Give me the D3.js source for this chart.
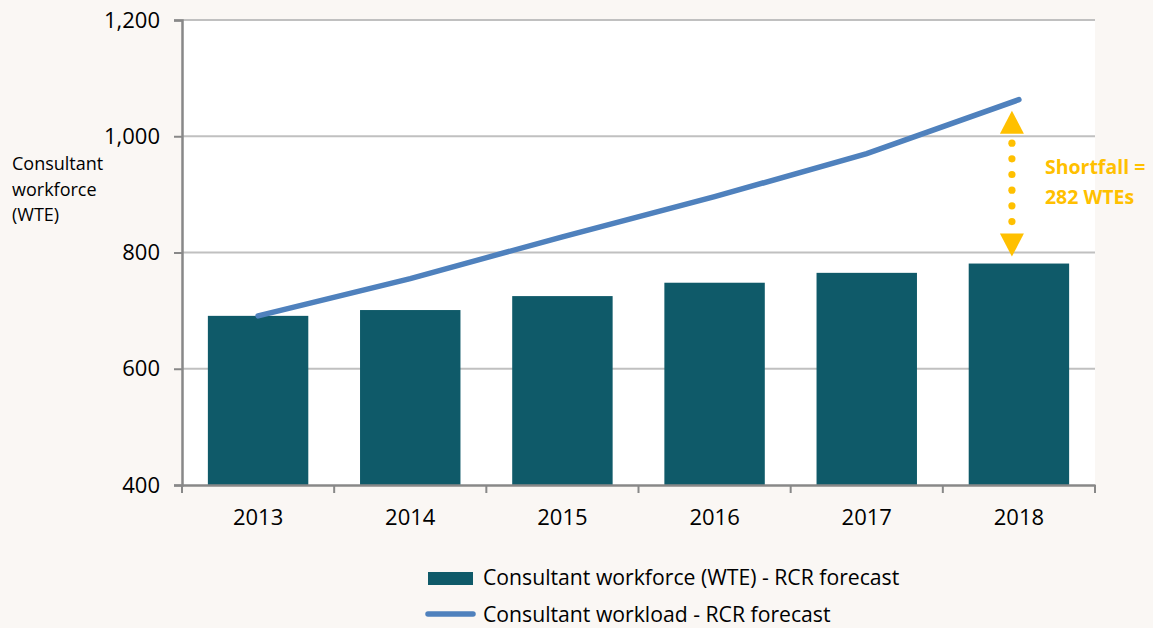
<!DOCTYPE html>
<html>
<head>
<meta charset="utf-8">
<script src="https://cdn.jsdelivr.net/npm/d3@7"></script>
<style>
  html, body { margin: 0; padding: 0; background: #faf7f4; }
  svg { display: block; font-family: "Open Sans", sans-serif; }
</style>
</head>
<body>
<div id="chart"></div>
<script>
// Chart data
const years = ["2013", "2014", "2015", "2016", "2017", "2018"];
const workforce = [691, 701, 725, 748, 765, 781];   // bars
const workload = [691, 755, 827, 896, 970, 1063];   // line
const yTicks = [400, 600, 800, 1000, 1200];
const axisTitle = ["Consultant", "workforce", "(WTE)"];
const legendLabels = ["Consultant workforce (WTE) - RCR forecast", "Consultant workload - RCR forecast"];
const shortfallLines = ["Shortfall =", "282 WTEs"];

const width = 1153, height = 628;
const plot = { left: 182, right: 1095, top: 20, bottom: 485 };

const barColor = "#0f5a69", lineColor = "#4f81bd", gold = "#ffc000";

const svg = d3.select("#chart")
    .append("svg")
    .attr("width", width)
    .attr("height", height)
    .style("background-color", "#faf7f4");

// white plotting area
svg.append("rect")
    .attr("x", plot.left)
    .attr("y", plot.top)
    .attr("width", plot.right - plot.left)
    .attr("height", plot.bottom - plot.top)
    .attr("fill", "#fff");

const x = d3.scaleBand()
    .domain(years)
    .range([plot.left, plot.right])
    .paddingInner(0.34)
    .paddingOuter(0.17);

const y = d3.scaleLinear()
    .domain([400, 1200])
    .range([plot.bottom, plot.top]);

// gridlines
svg.append("g")
    .selectAll("line")
    .data(yTicks.slice(1))
    .join("line")
    .attr("x1", plot.left)
    .attr("x2", plot.right)
    .attr("y1", d => y(d))
    .attr("y2", d => y(d))
    .attr("stroke", "#c0c0c0")
    .attr("stroke-width", 2);

// bars
svg.append("g")
    .selectAll("rect")
    .data(workforce)
    .join("rect")
    .attr("x", (d, i) => x(years[i]))
    .attr("y", d => y(d))
    .attr("width", x.bandwidth())
    .attr("height", d => y(400) - y(d))
    .attr("fill", barColor);

// y axis
const yAxis = svg.append("g")
    .attr("transform", `translate(${plot.left},0)`)
    .call(d3.axisLeft(y).tickValues(yTicks).tickFormat(d3.format(",")).tickSize(8).tickPadding(14));
yAxis.select(".domain").attr("stroke", "#888").attr("stroke-width", 2.5);
yAxis.selectAll(".tick line").attr("stroke", "#888").attr("stroke-width", 2);
yAxis.selectAll(".tick text")
    .attr("font-size", 22)
    .attr("fill", "#000")
    .attr("font-family", "Open Sans, sans-serif");

// x axis, labels at the centres, ticks on the category boundaries
const xAxis = svg.append("g")
    .attr("transform", `translate(0,${plot.bottom})`)
    .call(d3.axisBottom(x).tickSize(0).tickPadding(24));
xAxis.select(".domain").attr("stroke", "#888").attr("stroke-width", 2.5);
xAxis.selectAll(".tick text")
    .attr("font-size", 22)
    .attr("fill", "#000")
    .attr("font-family", "Open Sans, sans-serif");

const bounds = d3.range(years.length + 1).map(i => plot.left + i * x.step());
svg.append("g")
    .selectAll("line")
    .data(bounds)
    .join("line")
    .attr("x1", d => d)
    .attr("x2", d => d)
    .attr("y1", plot.bottom)
    .attr("y2", plot.bottom + 8)
    .attr("stroke", "#888")
    .attr("stroke-width", 2);

// workload line
const line = d3.line()
    .x((d, i) => x(years[i]) + x.bandwidth() / 2)
    .y(d => y(d));

svg.append("path")
    .datum(workload)
    .attr("d", line)
    .attr("fill", "none")
    .attr("stroke", lineColor)
    .attr("stroke-width", 5.5)
    .attr("stroke-linecap", "round");

// axis title
svg.append("text")
    .attr("x", 12)
    .attr("y", 170)
    .attr("font-size", 18)
    .attr("fill", "#000")
    .selectAll("tspan")
    .data(axisTitle)
    .join("tspan")
    .attr("x", 12)
    .attr("dy", (d, i) => i === 0 ? 0 : 25.5)
    .text(d => d);

// shortfall arrow between the 2018 bar and line
const last = years.length - 1;
const ax = x(years[last]) + x.bandwidth() / 2 - 7;
const topTip = y(workload[last]) + 11;
const botTip = y(workforce[last]) - 7;
const triH = 23, triW = 12;

const arrow = svg.append("g").attr("fill", gold);
arrow.append("path")
    .attr("d", `M${ax},${topTip}L${ax + triW},${topTip + triH}L${ax - triW},${topTip + triH}Z`);
arrow.append("path")
    .attr("d", `M${ax},${botTip}L${ax + triW},${botTip - triH}L${ax - triW},${botTip - triH}Z`);

const dotTop = topTip + triH + 9.5, dotBot = botTip - triH - 12;
const nDots = 6;
arrow.selectAll("circle")
    .data(d3.range(nDots))
    .join("circle")
    .attr("cx", ax)
    .attr("cy", i => dotTop + i * (dotBot - dotTop) / (nDots - 1))
    .attr("r", 3.6);

svg.append("text")
    .attr("x", ax + 33)
    .attr("y", 174)
    .attr("font-size", 19.5)
    .attr("font-weight", "bold")
    .attr("fill", gold)
    .selectAll("tspan")
    .data(shortfallLines)
    .join("tspan")
    .attr("x", ax + 33)
    .attr("dy", (d, i) => i === 0 ? 0 : 29.5)
    .text(d => d);

// legend
const legend = svg.append("g");
legend.append("rect")
    .attr("x", 428)
    .attr("y", 572)
    .attr("width", 45)
    .attr("height", 13)
    .attr("fill", barColor);
legend.append("line")
    .attr("x1", 428)
    .attr("x2", 473)
    .attr("y1", 614)
    .attr("y2", 614)
    .attr("stroke", lineColor)
    .attr("stroke-width", 5.5)
    .attr("stroke-linecap", "round");
legend.selectAll("text")
    .data(legendLabels)
    .join("text")
    .attr("x", 483)
    .attr("y", (d, i) => 585 + i * 36.5)
    .attr("font-size", 21.2)
    .attr("fill", "#000")
    .text(d => d);
</script>
</body>
</html>
